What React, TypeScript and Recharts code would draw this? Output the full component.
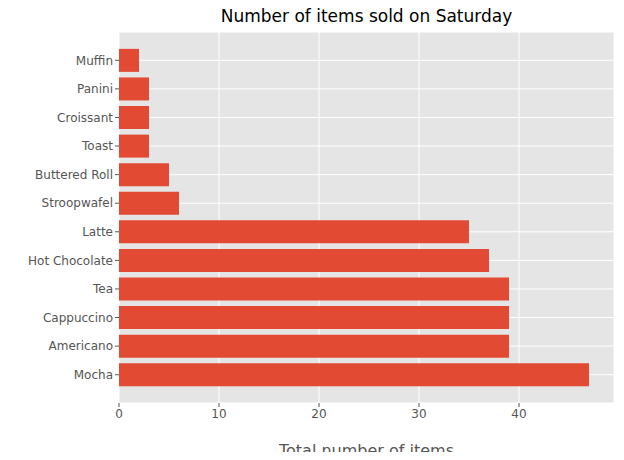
import React from 'react';
import { BarChart, Bar, XAxis, YAxis, CartesianGrid } from 'recharts';

const items = ['Muffin','Panini','Croissant','Toast','Buttered Roll','Stroopwafel','Latte','Hot Chocolate','Tea','Cappuccino','Americano','Mocha'];
const counts = [2,3,3,3,5,6,35,37,39,39,39,47];
const xTicks = [0,10,20,30,40];
const data = items.map((name, i) => ({ name, count: counts[i] }));

export default function App() {
  return (
    <div style={{ margin: -8, width: 624, height: 460, position: 'relative', background: '#fff', fontFamily: 'DejaVu Sans' }}>
      <div style={{ position: 'absolute', top: 6, left: 119, width: 495, textAlign: 'center', fontSize: 17, color: '#000' }}>Number of items sold on Saturday</div>
      <BarChart width={624} height={460} data={data} layout="vertical" margin={{ top: 32, right: 10, left: 8, bottom: 0 }} barCategoryGap="10%">
        <CartesianGrid fill="#E5E5E5" stroke="#fff" strokeWidth={1} />
        <XAxis type="number" domain={[0, 49.5]} ticks={xTicks} height={57} axisLine={false} tickLine={{ stroke: '#555' }} tickSize={4}
          tick={{ fill: '#555', fontSize: 12 }}
          label={{ value: 'Total number of items', position: 'insideBottom', offset: 4, fill: '#555', fontSize: 16 }} />
        <YAxis type="category" dataKey="name" width={111} padding={{ top: 14, bottom: 14 }} axisLine={false} tickLine={{ stroke: '#555' }} tickSize={4}
          tick={{ fill: '#555', fontSize: 12 }} interval={0} />
        <Bar dataKey="count" fill="#E24A33" isAnimationActive={false} />
      </BarChart>
    </div>
  );
}
